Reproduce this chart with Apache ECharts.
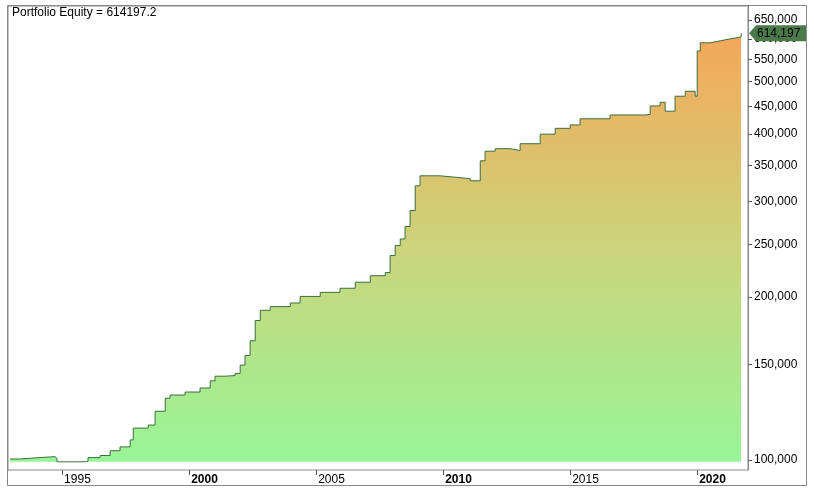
<!DOCTYPE html>
<html>
<head>
<meta charset="utf-8">
<script src="https://cdn.jsdelivr.net/npm/echarts@6/dist/echarts.min.js"></script>
<style>html,body{margin:0;padding:0;background:#fff}#main{width:814px;height:494px}</style>
</head>
<body>
<div id="main"></div>
<script>
// equity curve: decimal year, equity
var years = [1992.95, 1993.35, 1994.13, 1994.72, 1994.80, 1995.91, 1996.02, 1996.50, 1996.89, 1997.28,
    1997.68, 1997.80, 1998.39, 1998.66, 1999.06, 1999.25, 1999.84, 2000.43, 2000.83, 2001.02,
    2001.42, 2001.81, 2002.01, 2002.20, 2002.40, 2002.60, 2002.80, 2003.19, 2003.98, 2004.37,
    2005.16, 2005.94, 2006.54, 2007.13, 2007.72, 2007.91, 2008.11, 2008.31, 2008.50, 2008.70,
    2008.90, 2009.09, 2009.88, 2010.47, 2011.06, 2011.46, 2011.65, 2012.05, 2012.64, 2013.03,
    2013.82, 2014.41, 2015.00, 2015.39, 2016.57, 2017.95, 2018.15, 2018.54, 2018.74, 2019.13,
    2019.53, 2019.92, 2020.00, 2020.12, 2020.51, 2020.91, 2021.30, 2021.73];
var equity = [100400, 101000, 101400, 100600, 99200, 99400, 101000, 101900, 104000, 105700,
    108900, 114500, 116000, 123000, 130000, 131800, 133500, 135800, 140000, 142800,
    143200, 144500, 149700, 156000, 166000, 181000, 189000, 192000, 195000, 200500,
    204000, 207600, 213000, 219000, 221900, 238600, 249000, 256000, 270000, 289000,
    321000, 335000, 333000, 331000, 328000, 357000, 372000, 376000, 373000, 384000,
    400000, 410000, 416000, 427000, 434000, 435000, 451000, 458000, 441000, 470000,
    480000, 470000, 570000, 590000, 595000, 600000, 605000, 614197];
var yTicks = [100000, 150000, 200000, 250000, 300000, 350000, 400000, 450000, 500000, 550000, 600000, 650000];
var xTicks = [1995, 2000, 2005, 2010, 2015, 2020];

var data = years.map(function(y, i) { return [y, equity[i]]; });
var last = equity[equity.length - 1];

var chart = echarts.init(document.getElementById('main'));
chart.setOption({
    animation: false,
    textStyle: { fontFamily: 'Arial, Liberation Sans, sans-serif' },
    grid: { left: 8, right: 66, top: 6, bottom: 24, show: true, borderColor: '#888', borderWidth: 1 },
    xAxis: {
        type: 'value',
        min: 1992.87, max: 2022.0,
        axisLine: { show: false },
        splitLine: { show: false },
        axisTick: { show: true, length: 5, lineStyle: { color: '#555' }, customValues: xTicks },
        axisLabel: {
            customValues: xTicks,
            align: 'left', margin: 4, padding: [0, 0, 0, 2], color: '#000', fontSize: 12,
            formatter: function(v) {
                return v % 10 === 0 ? '{b|' + v + '}' : '' + v;
            },
            rich: { b: { fontWeight: 'bold', fontSize: 12, color: '#000' } }
        }
    },
    yAxis: {
        type: 'log', position: 'right',
        min: 95800, max: 690000,
        axisLine: { show: true, lineStyle: { color: '#888' } },
        splitLine: { show: false },
        axisTick: { show: true, length: 4, lineStyle: { color: '#555' }, customValues: yTicks },
        axisLabel: {
            customValues: yTicks, color: '#000', fontSize: 12, margin: 6,
            formatter: function(v) { return Math.round(v).toLocaleString('en-US'); }
        }
    },
    series: [{
        type: 'line', step: 'end', data: data, symbol: 'none',
        lineStyle: { color: '#3d6e3d', width: 1 },
        areaStyle: {
            origin: 99200, opacity: 1,
            color: new echarts.graphic.LinearGradient(0, 0, 0, 1, [
                { offset: 0, color: '#f5a75a' },
                { offset: 0.5, color: '#cbd47a' },
                { offset: 1, color: '#98f598' }
            ])
        }
    }]
});

// last-value tag on the price axis
var py = chart.convertToPixel({ yAxisIndex: 0 }, last);
var tx = 749;
chart.setOption({
    graphic: [
        { type: 'rect', shape: { x: 7.5, y: 5.5, width: 799, height: 480 }, style: { fill: 'none', stroke: '#888' }, silent: true },
        { type: 'text', left: 12, top: 7, style: { text: 'Portfolio Equity = 614197.2', fontSize: 12, fill: '#000', fontFamily: 'Arial, Liberation Sans' } },
        { type: 'polygon', shape: { points: [[tx, py], [tx + 7, py - 8], [tx + 57, py - 8], [tx + 57, py + 8], [tx + 7, py + 8]] }, style: { fill: '#4a7a4a' }, z: 10 },
        { type: 'text', x: tx + 8, y: py, style: { text: last.toLocaleString('en-US'), fontSize: 12, fill: '#000', verticalAlign: 'middle', fontFamily: 'Arial, Liberation Sans' }, z: 11 }
    ]
});
</script>
</body>
</html>
